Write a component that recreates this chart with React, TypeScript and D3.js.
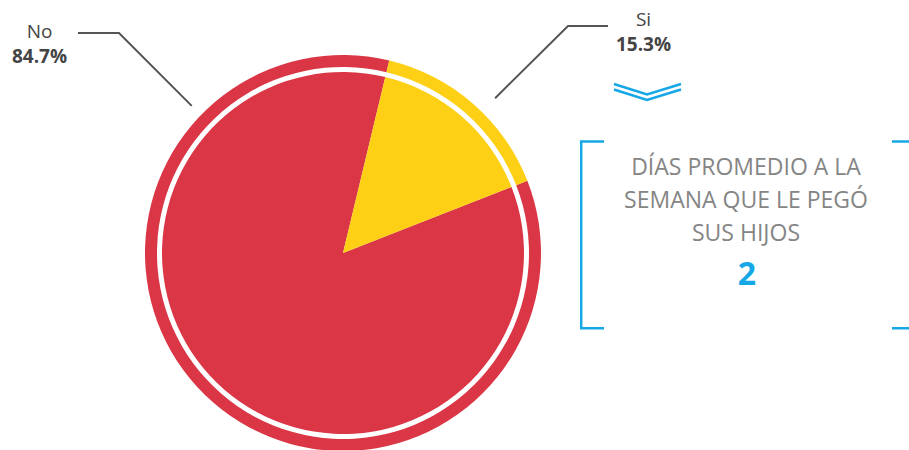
import React from "react";
import * as d3 from "d3";

const categories = ["No", "Si"];
const values = [84.7, 15.3];
const valueLabels = ["84.7%", "15.3%"];
const colors = ["#db3646", "#fdd015"];
const boxLines = ["DÍAS PROMEDIO A LA", "SEMANA QUE LE PEGÓ", "SUS HIJOS"];
const boxValue = "2";

const W = 909;
const H = 450;
const cx = 343;
const cy = 253;
const rInner = 181;
const rRingIn = 186;
const rRingOut = 198;
const deg = Math.PI / 180;
const startA = 68.6 * deg;

const FONT = "'Open Sans', 'Noto Sans', sans-serif";
const BLUE = "#16a8e6";
const GREY_TXT = "#858585";

export default function App() {
  const pie = d3
    .pie<number>()
    .sort(null)
    .value((d) => d)
    .startAngle(startA)
    .endAngle(startA + 2 * Math.PI);
  const arcsData = pie(values);
  const innerArc = d3.arc<d3.PieArcDatum<number>>().innerRadius(0).outerRadius(rInner);
  const ringArc = d3.arc<d3.PieArcDatum<number>>().innerRadius(rRingIn).outerRadius(rRingOut);

  const leaders = [
    { ang: -45.8 * deg, r: 211, elbow: [119, 33], end: [78, 33], tx: 39.5, ty: 38 },
    { ang: 44.5 * deg, r: 217, elbow: [568, 26], end: [608, 26], tx: 643.5, ty: 25.5 },
  ];

  return (
    <div style={{ position: "absolute", left: 0, top: 0 }}>
      <svg width={W} height={H} style={{ display: "block", background: "#fff" }}>
        <g transform={`translate(${cx},${cy})`}>
          {arcsData.map((d, i) => (
            <path key={"r" + i} d={ringArc(d) || ""} fill={colors[i]} />
          ))}
          {arcsData.map((d, i) => (
            <path key={"p" + i} d={innerArc(d) || ""} fill={colors[i]} />
          ))}
        </g>
        {leaders.map((l, i) => {
          const x0 = cx + l.r * Math.sin(l.ang);
          const y0 = cy - l.r * Math.cos(l.ang);
          return (
            <g key={"l" + i}>
              <polyline
                points={`${x0},${y0} ${l.elbow[0]},${l.elbow[1]} ${l.end[0]},${l.end[1]}`}
                fill="none"
                stroke="#555"
                strokeWidth={2}
              />
              <text x={l.tx} y={l.ty} textAnchor="middle" fontFamily={FONT} fontSize={19} fill="#444">
                {categories[i]}
              </text>
              <text
                x={l.tx}
                y={l.ty + 25}
                textAnchor="middle"
                fontFamily={FONT}
                fontSize={19}
                fontWeight="bold"
                fill="#444"
              >
                {valueLabels[i]}
              </text>
            </g>
          );
        })}
        <polyline points="614,84 647,94.5 681,84" fill="none" stroke={BLUE} strokeWidth={2.5} />
        <polyline points="614,89.5 647,100 681,89.5" fill="none" stroke={BLUE} strokeWidth={2.5} />
        <polyline points="604,141.5 581.2,141.5 581.2,328.2 604,328.2" fill="none" stroke={BLUE} strokeWidth={2.5} />
        <polyline points="892,141.5 911,141.5 911,328.2 892,328.2" fill="none" stroke={BLUE} strokeWidth={2.5} />
        {boxLines.map((t, i) => (
          <text
            key={"b" + i}
            x={746}
            y={174.5 + i * 33}
            textAnchor="middle"
            fontFamily={FONT}
            fontSize={23}
            fill={GREY_TXT}
          >
            {t}
          </text>
        ))}
        <text x={747} y={285} textAnchor="middle" fontFamily={FONT} fontSize={32} fontWeight="bold" fill={BLUE}>
          {boxValue}
        </text>
      </svg>
    </div>
  );
}
